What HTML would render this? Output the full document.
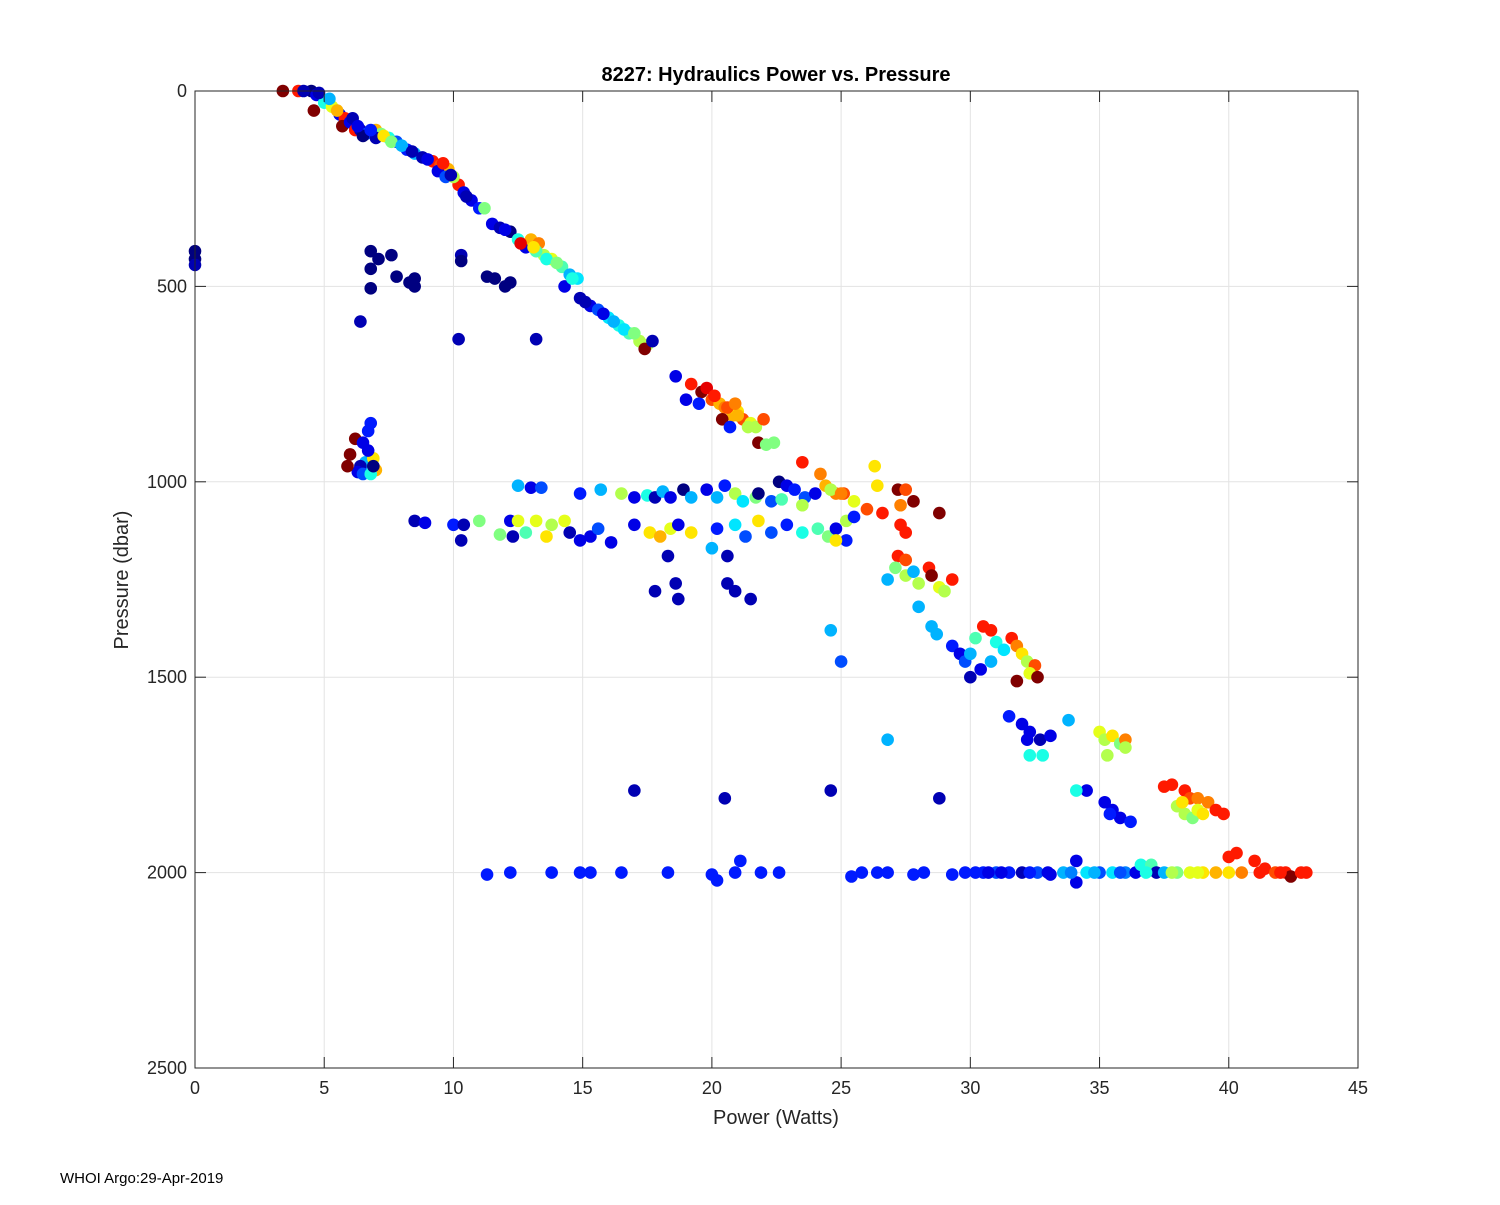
<!DOCTYPE html>
<html>
<head>
<meta charset="utf-8">
<style>
  html,body{margin:0;padding:0;background:#fff;}
  svg text{font-family:"Liberation Sans",Arial,sans-serif;}
</style>
</head>
<body>
<svg id="chart" width="1500" height="1200" viewBox="0 0 1500 1200" xmlns="http://www.w3.org/2000/svg">
  <rect x="0" y="0" width="1500" height="1200" fill="#fff"/>
  <g id="grid"></g>
  <g id="points"></g>
  <rect x="195" y="91" width="1163" height="977" fill="none" stroke="#262626" stroke-width="1"/>
  <g id="ticks"></g>
  <text x="776" y="81" font-size="20" font-weight="bold" text-anchor="middle" fill="#000">8227: Hydraulics Power vs. Pressure</text>
  <text x="776" y="1124" font-size="20" text-anchor="middle" fill="#262626">Power (Watts)</text>
  <text x="0" y="0" font-size="20" text-anchor="middle" fill="#262626" transform="translate(128,580) rotate(-90)">Pressure (dbar)</text>
  <text x="60" y="1183" font-size="15" fill="#000">WHOI Argo:29-Apr-2019</text>
</svg>
<script>
const xTicks = [0,5,10,15,20,25,30,35,40,45];
const yTicks = [0,500,1000,1500,2000,2500];
const powerVals = [3.4,4.0,4.5,4.7,4.6,5.0,5.3,5.6,5.8,5.7,6.0,6.2,6.4,6.6,6.5,7.0,7.2,7.5,7.8,7.0,8.2,8.5,8.8,9.2,9.5,9.8,9.4,9.7,10.2,10.4,10.7,11.0,11.5,11.8,12.2,12.5,12.8,13.0,13.3,13.5,13.2,13.8,14.2,14.5,14.8,14.3,14.9,15.3,15.6,16.0,16.4,16.8,17.2,17.5,17.4,11.2,10.0,
0,0,0,6.8,7.1,7.6,6.8,7.8,8.3,8.5,8.5,6.8,6.4,10.3,10.3,11.3,11.6,12.0,12.2,10.2,13.2,17.7,
6.0,6.2,6.5,6.7,6.8,6.6,6.4,6.9,7.0,6.3,6.5,6.8,5.9,6.7,6.9,
18.6,19.2,19.6,19.8,20,20.3,20.5,20.8,21.0,21.2,21.5,21.7,22.0,20.4,20.7,19.5,19.0,21.8,22.1,22.4,
12.5,13.0,13.4,14.9,15.7,16.5,17.0,17.5,17.8,18.1,18.4,18.9,19.2,19.8,20.2,20.5,20.9,21.2,21.7,21.8,22.3,22.6,22.9,23.2,23.6,24,24.4,24.8,25.1,24.6,22.7,23.5,
8.5,8.9,10,10.4,10.3,11.0,11.8,12.2,12.3,12.5,12.8,13.2,13.6,13.8,14.3,14.5,14.9,15.3,15.6,16.1,17.0,17.6,18.0,18.4,18.7,19.2,20.2,20.9,21.3,21.8,22.3,22.9,23.5,24.1,24.5,24.8,25.2,25.5,25.2,24.8,18.3,20.6,17.8,18.6,18.7,20.6,20.9,21.5,20,
23.5,24.2,25,25.5,26,26.3,26.4,26.6,27.2,27.5,27.8,27.3,28.8,27.3,27.5,27.2,27.5,26.8,27.1,27.5,28,28.4,28.5,28.8,29,29.3,27.8,28,28.5,28.7,24.6,25,26.8,
29.3,29.6,29.8,30,30.2,30.5,30.8,31,31.3,31.6,31.8,32,32.2,32.5,32.3,31.8,32.6,30,30.4,30.8,31.5,32,32.3,32.2,32.7,33.1,32.3,32.8,33.8,34.5,34.1,35.2,35.5,35.8,36.2,35.4,
35,35.2,35.5,35.8,36,35.3,36,
37.5,37.8,38.3,38.5,38.8,39.2,39.5,39.8,38,38.3,38.6,38.8,39,38.2,
11.3,12.2,13.8,14.9,15.3,16.5,18.3,20,20.2,20.9,21.1,21.9,22.6,25.4,25.8,26.4,26.8,27.8,28.2,29.3,29.8,30.5,31,31.5,32,32.6,33.1,33.6,34.1,34.1,34.5,35,35.5,36,36.4,36.6,37,37.2,37.5,38,38.5,39,39.5,40,40.5,40.3,40,41,41.4,41.8,42.2,42.4,42.8,43,17,20.5,24.6,28.8,33,31.2,
4.2,4.8,5.2,5.5,6.1,6.3,6.8,7.3,7.6,8.0,8.4,9.0,9.6,9.9,10.5,12.0,12.6,13.1,13.6,14.0,14.6,15.1,15.8,16.2,16.6,17.0,20.1,20.6,21.0,21.4,20.9,
30.2,30.7,32.3,33.9,34.8,35.8,36.8,37.8,38.8,41.2,42];
const pressureVals = [0,0,0,10,50,30,40,60,70,90,80,100,100,110,115,100,110,120,130,120,150,160,170,180,190,200,205,220,240,260,280,300,340,350,360,380,400,380,390,420,410,430,450,470,480,500,530,550,560,580,600,620,640,650,660,300,220,
410,430,445,410,430,420,455,475,490,480,500,505,590,420,435,475,480,500,490,635,635,640,
930,890,900,870,850,950,960,940,970,975,980,980,960,920,960,
730,750,770,760,790,800,810,830,820,840,850,860,840,840,860,800,790,900,905,900,
1010,1015,1015,1030,1020,1030,1040,1035,1040,1025,1040,1020,1040,1020,1040,1010,1030,1050,1040,1030,1050,1000,1010,1020,1040,1030,1010,1030,1030,1020,1045,1060,
1100,1105,1110,1110,1150,1100,1135,1100,1140,1100,1130,1100,1140,1110,1100,1130,1150,1140,1120,1155,1110,1130,1140,1120,1110,1130,1120,1110,1140,1100,1130,1110,1130,1120,1140,1120,1100,1090,1150,1150,1190,1190,1280,1260,1300,1260,1280,1300,1170,
950,980,1030,1050,1070,960,1010,1080,1020,1020,1050,1060,1080,1110,1130,1190,1200,1250,1220,1240,1260,1220,1240,1270,1280,1250,1230,1320,1370,1390,1380,1460,1660,
1420,1440,1460,1440,1400,1370,1380,1410,1430,1400,1420,1440,1460,1470,1490,1510,1500,1500,1480,1460,1600,1620,1640,1660,1660,1650,1700,1700,1610,1790,1790,1820,1840,1860,1870,1850,
1640,1660,1650,1670,1660,1700,1680,
1780,1775,1790,1810,1810,1820,1840,1850,1830,1850,1860,1840,1850,1820,
2005,2000,2000,2000,2000,2000,2000,2005,2020,2000,1970,2000,2000,2010,2000,2000,2000,2005,2000,2005,2000,2000,2000,2000,2000,2000,2005,2000,1970,2025,2000,2000,2000,2000,2000,1980,1980,2000,2000,2000,2000,2000,2000,2000,2000,1950,1960,1970,1990,2000,2000,2010,2000,2000,1790,1810,1790,1810,2000,2000,
0,5,20,50,70,90,100,115,130,140,155,175,185,215,270,355,390,400,430,440,480,540,570,590,610,620,780,810,830,860,800,
2000,2000,2000,2000,2000,2000,2000,2000,2000,2000,2000];
const cycleVals = [1,0.85,0,0.1,1,0.4,0.6,0.1,0.85,1,0.1,0.85,0.05,0.2,0,0.7,0.5,0.4,0.2,0.05,0.15,0.3,0.05,0.85,0.8,0.7,0.1,0.2,0.85,0.1,0.1,0.15,0.1,0.05,0,0.4,0.1,0.7,0.75,0.55,0.45,0.6,0.45,0.3,0.35,0.1,0.05,0.1,0.2,0.35,0.4,0.45,0.55,0.55,1,0.5,0.55,
0,0,0.05,0,0,0,0,0,0,0,0,0,0.05,0.05,0,0,0,0,0,0.05,0.05,0.05,
1,1,0.1,0.15,0.15,0.3,0.05,0.65,0.7,0.1,0.2,0.4,1,0.1,0,
0.1,0.85,1,0.9,0.8,0.7,0.75,0.7,0.65,0.8,0.6,0.55,0.8,1,0.15,0.15,0.1,1,0.5,0.5,
0.3,0.1,0.2,0.15,0.3,0.55,0.1,0.4,0.05,0.3,0.1,0,0.3,0.1,0.3,0.15,0.55,0.35,0.5,0,0.2,0,0.1,0.15,0.2,0.1,0.7,0.75,0.8,0.55,0.45,0.55,
0.05,0.1,0.15,0.05,0.05,0.5,0.5,0.1,0.05,0.6,0.45,0.6,0.65,0.55,0.6,0.05,0.1,0.1,0.2,0.1,0.1,0.65,0.7,0.6,0.1,0.65,0.15,0.35,0.2,0.65,0.2,0.15,0.4,0.45,0.5,0.1,0.55,0.15,0.15,0.65,0.05,0.05,0.05,0.05,0.05,0.05,0.05,0.05,0.3,
0.85,0.75,0.75,0.6,0.8,0.65,0.65,0.85,1,0.8,1,0.75,1,0.85,0.85,0.85,0.8,0.3,0.5,0.55,0.55,0.85,1,0.6,0.55,0.85,0.3,0.3,0.3,0.3,0.3,0.2,0.3,
0.15,0.1,0.2,0.3,0.45,0.85,0.85,0.4,0.35,0.85,0.75,0.65,0.55,0.8,0.6,1,1,0.05,0.1,0.3,0.15,0.1,0.1,0.1,0.05,0.1,0.4,0.4,0.3,0.1,0.4,0.1,0.1,0.1,0.15,0.15,
0.6,0.55,0.65,0.5,0.75,0.55,0.55,
0.85,0.85,0.85,0.8,0.75,0.75,0.85,0.85,0.55,0.55,0.5,0.6,0.65,0.65,
0.15,0.15,0.15,0.15,0.15,0.15,0.15,0.15,0.15,0.15,0.15,0.15,0.15,0.15,0.15,0.15,0.15,0.15,0.15,0.15,0.15,0.15,0.2,0.15,0.05,0.2,0.1,0.3,0.1,0.1,0.35,0.2,0.35,0.25,0.1,0.4,0.45,0.05,0.3,0.5,0.6,0.65,0.7,0.65,0.75,0.85,0.85,0.85,0.85,0.8,0.85,1,0.85,0.85,0.05,0.05,0.05,0.05,0.1,0.1,
0.05,0.05,0.3,0.7,0.05,0.1,0.15,0.65,0.5,0.3,0.05,0.1,0.85,0.05,0.05,0.1,0.9,0.65,0.4,0.5,0.4,0.05,0.1,0.3,0.35,0.5,0.85,0.8,0.7,0.55,0.75,
0.15,0.1,0.15,0.25,0.3,0.2,0.4,0.55,0.6,0.85,0.85];

const X0=195, X1=1358, Y0=91, Y1=1068;
const xMin=0, xMax=45, yMin=0, yMax=2500;
function xScale(v){return X0+(v-xMin)/(xMax-xMin)*(X1-X0);}
function yScale(v){return Y0+(v-yMin)/(yMax-yMin)*(Y1-Y0);}
function jet(t){
  function c(x){return Math.max(0,Math.min(1,x));}
  const r=c(1.5-Math.abs(4*t-3)), g=c(1.5-Math.abs(4*t-2)), b=c(1.5-Math.abs(4*t-1));
  return 'rgb('+Math.round(r*255)+','+Math.round(g*255)+','+Math.round(b*255)+')';
}
const NS='http://www.w3.org/2000/svg';
const grid=document.getElementById('grid'), ticks=document.getElementById('ticks'), pts=document.getElementById('points');
function mk(tag,attrs,parent){const e=document.createElementNS(NS,tag);for(const k in attrs)e.setAttribute(k,attrs[k]);parent.appendChild(e);return e;}
xTicks.forEach(function(v){
  const x=xScale(v);
  const gl=mk('line',{x1:x,x2:x,y1:Y0,y2:Y1,stroke:'#e3e3e3','stroke-width':1},grid);
  
  
  const t1=mk('line',{x1:x,x2:x,y1:Y1,y2:Y1-11,stroke:'#262626'},ticks);
  
  
  const t2=mk('line',{x1:x,x2:x,y1:Y0,y2:Y0+11,stroke:'#262626'},ticks);
  
  
  const lb=mk('text',{x:x,y:Y1+26,'font-size':18,'text-anchor':'middle',fill:'#262626'},ticks);
  lb.textContent=String(v);
  
  
});
yTicks.forEach(function(v){
  const y=yScale(v);
  const gl=mk('line',{x1:X0,x2:X1,y1:y,y2:y,stroke:'#e3e3e3','stroke-width':1},grid);
  
  
  const t1=mk('line',{x1:X0,x2:X0+11,y1:y,y2:y,stroke:'#262626'},ticks);
  
  
  const t2=mk('line',{x1:X1,x2:X1-11,y1:y,y2:y,stroke:'#262626'},ticks);
  
  
  const lb=mk('text',{x:X0-8,y:y+6,'font-size':18,'text-anchor':'end',fill:'#262626'},ticks);
  lb.textContent=String(v);
  
  
});
for(let i=0;i<powerVals.length;i++){
  const c=mk('circle',{cx:xScale(powerVals[i]),cy:yScale(pressureVals[i]),r:6.3,fill:jet(cycleVals[i])},pts);
  
  
}
</script>
</body>
</html>
